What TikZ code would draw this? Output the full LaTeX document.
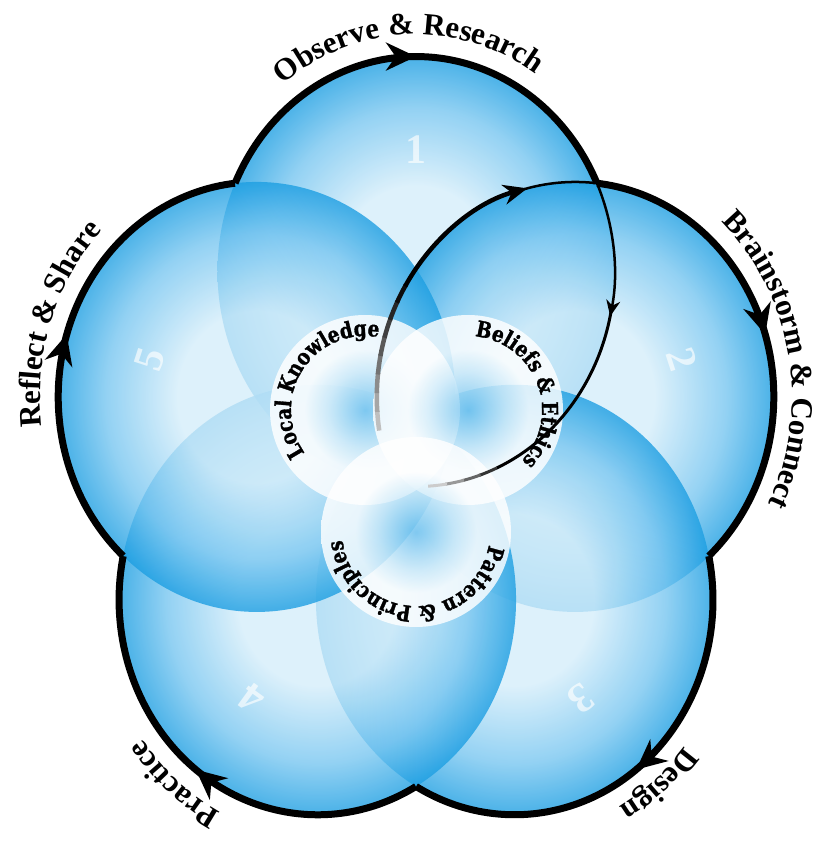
\documentclass[tikz,border=0pt]{standalone}
\usepackage{fontspec}
\setmainfont{Liberation Serif}
\newfontfamily\vennfam{DejaVu Serif}[FakeStretch=0.84, BoldFeatures={FakeBold=1.3}]
\usetikzlibrary{arrows.meta, calc, decorations.markings, decorations.text}

\definecolor{rimblue}{RGB}{28,158,226}
\definecolor{midblue}{RGB}{120,198,240}
\definecolor{coreblue}{RGB}{212,237,250}

\pgfdeclareradialshading{petal}{\pgfpoint{0bp}{0bp}}{%
  color(0bp)=(coreblue); color(10bp)=(coreblue); color(19bp)=(midblue);
  color(25bp)=(rimblue); color(50bp)=(rimblue)}
\pgfdeclareradialshading{pearl}{\pgfpoint{0bp}{0bp}}{%
  color(0bp)=(midblue); color(10bp)=(coreblue); color(16bp)=(white);
  color(25bp)=(white); color(50bp)=(white)}

\newcommand\petalrx{198.5}
\newcommand\petalry{215}
\newcommand\petald{167.5}
\newcommand\petalsy{1.083}
\newcommand\ringfont{\fontsize{31pt}{32pt}\selectfont\bfseries}
\newcommand\vennfont{\vennfam\fontsize{22pt}{24pt}\selectfont\bfseries}

% curved label outside a petal, centred at angle #2
\newcommand\ringlabel[3]{%
  \path[decorate, decoration={text along path, text align=center,
      text={|\ringfont|#3}}]
    ($(#1)+({(\petalrx+18)*cos(#2+80)},{(\petalry+22)*sin(#2+80)})$)
    arc[start angle=#2+80, end angle=#2-80,
        x radius=\petalrx+18, y radius=\petalry+22];}
% curved label inside a venn circle
\newcommand\vennlabel[3]{%
  \path[decorate, decoration={text along path, text align=center,
      text={|\vennfont|#3}}]
    ($(#1)+(#2+90:74)$) arc[start angle=#2+90, end angle=#2-90, radius=74];}

\tikzset{
  petalfill/.style={shading=petal, fill opacity=.8},
  vennfill/.style={shading=pearl, fill opacity=.82},
  rimarc/.style={line width=7pt, postaction={decorate},
    decoration={markings,
      mark=at position .5 with {\arrow{Stealth[length=30pt,width=28pt]}}}},
  petalnum/.style={text=white, text opacity=.65,
    font=\fontsize{42pt}{42pt}\selectfont\bfseries}
}

\begin{document}
\begin{tikzpicture}[x=1pt, y=1pt]
  \useasboundingbox (-416,-397) rectangle (399,453);
  % petals
  \foreach \i/\a in {1/90, 2/18, 3/-54, 4/-126, 5/162}
    \coordinate (c\i) at ({\petald*cos(\a)}, {\petald*\petalsy*sin(\a)});
  \foreach \i in {1,...,5}
    \shade[petalfill] (c\i) ellipse[x radius=\petalrx, y radius=\petalry];
  % inner venn
  \coordinate (lk) at (-51,43);
  \coordinate (be) at (52,43);
  \coordinate (pp) at (0,-79);
  \foreach \v in {lk, be, pp}
    \shade[vennfill] (\v) circle[radius=95];
  % step numbers
  \foreach \i/\a in {1/90, 2/18, 3/-54, 4/-126, 5/162}
    \node[petalnum, rotate=\a-90] (n\i)
      at ({280*cos(\a)}, {280*\petalsy*sin(\a)}) {\i};
  % outer cycle
  \foreach \i/\a in {1/90, 2/18, 3/-54, 4/-126, 5/162}
    \draw[rimarc] ($(c\i)+({\petalrx*cos(\a+65.7)},{\petalry*sin(\a+65.7)})$)
      arc[start angle=\a+65.7, end angle=\a-65.7,
          x radius=\petalrx, y radius=\petalry];
  % inner loop, along petal 2 then petal 1
  \foreach \k [evaluate=\k as \segang using 189-5*\k,
               evaluate=\k as \seggray using 25+10*\k] in {0,...,7}
    \draw[line width=4.5pt, black!\seggray]
      ($(c2)+({\petalrx*cos(\segang)},{\petalry*sin(\segang)})$)
      arc[start angle=\segang, end angle=\segang-5.5,
          x radius=\petalrx, y radius=\petalry];
  \draw[line width=4.5pt, -{Stealth[length=24pt, width=20pt]}]
    ($(c2)+({\petalrx*cos(149)},{\petalry*sin(149)})$)
    arc[start angle=149, end angle=104, x radius=\petalrx, y radius=\petalry];
  \draw[line width=2.5pt]
    ($(c2)+({\petalrx*cos(106)},{\petalry*sin(106)})$)
    arc[start angle=106, end angle=83.7, x radius=\petalrx, y radius=\petalry];
  \draw[line width=2.5pt, -{Stealth[length=16pt, width=14pt]}]
    ($(c1)+({\petalrx*cos(24.2)},{\petalry*sin(24.2)})$)
    arc[start angle=24.2, end angle=-12, x radius=\petalrx, y radius=\petalry];
  \draw[line width=3pt]
    ($(c1)+({\petalrx*cos(-10)},{\petalry*sin(-10)})$)
    arc[start angle=-10, end angle=-66, x radius=\petalrx, y radius=\petalry];
  \foreach \k [evaluate=\k as \segang using -66-5*\k,
               evaluate=\k as \seggray using 80-20*\k] in {0,...,3}
    \draw[line width=3pt, black!\seggray]
      ($(c1)+({\petalrx*cos(\segang)},{\petalry*sin(\segang)})$)
      arc[start angle=\segang, end angle=\segang-5.5,
          x radius=\petalrx, y radius=\petalry];
  % labels
  \ringlabel{c1}{92}{Observe {\&} Research}
  \ringlabel{c2}{11}{Brainstorm {\&} Connect}
  \ringlabel{c3}{-52}{Design}
  \ringlabel{c4}{-128}{Practice}
  \ringlabel{c5}{160}{Reflect {\&} Share}
  \vennlabel{lk}{147.5}{Local Knowledge}
  \vennlabel{be}{20.5}{Beliefs {\&} Ethics}
  \vennlabel{pp}{-92}{Pattern {\&} Principles}
\end{tikzpicture}
\end{document}
